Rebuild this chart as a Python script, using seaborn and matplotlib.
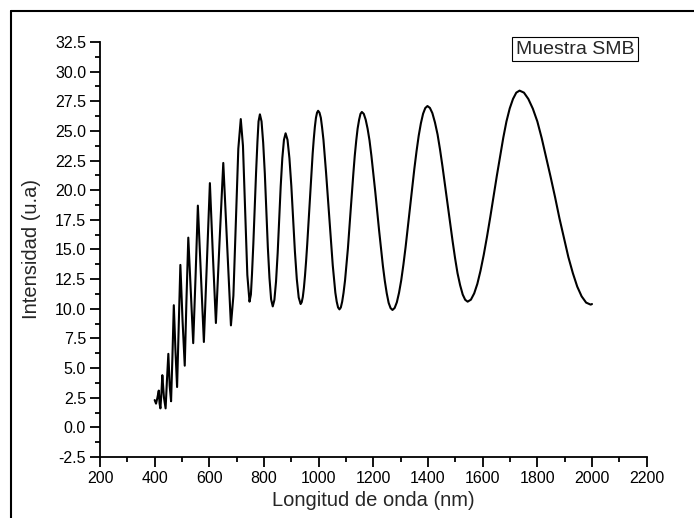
import numpy as np
import pandas as pd
import matplotlib
matplotlib.use("Agg")
import matplotlib.pyplot as plt
from matplotlib.lines import Line2D
from matplotlib.ticker import MultipleLocator, FormatStrFormatter
import seaborn as sns

# ---- data ----
wavelength = [
    400, 405, 410, 415, 418, 421, 425, 428, 434, 440, 445, 450, 455, 460, 465, 470,
    476, 482, 488, 494, 502, 510, 516, 523, 532, 541, 550, 558, 569, 580, 591, 602,
    613, 624, 637, 651, 665, 679, 688, 697, 706, 715, 723, 731, 739, 747,
    752, 756, 761, 766, 771, 776, 780, 785,
    791, 797, 803, 808.5, 814, 820, 826, 832,
    838, 844, 850, 855.5, 861, 867, 873, 879,
    886, 893, 900, 906.5, 913, 920, 927, 934,
    938, 942, 946, 950, 954, 958, 962, 966, 970, 974, 978, 982, 986, 990, 994, 998,
    1003, 1008, 1012.5, 1017.5, 1022, 1027, 1032, 1037, 1042, 1047, 1051.5, 1056.5, 1061, 1066, 1071, 1076,
    1081, 1086, 1091, 1096.5, 1101.5, 1107, 1112, 1117, 1122, 1127, 1132, 1137.5, 1142.5, 1148, 1153, 1158,
    1165, 1172, 1179, 1186, 1193, 1200, 1207, 1214, 1221, 1228, 1235, 1242, 1249, 1256, 1263, 1270,
    1278, 1286, 1294, 1302, 1310, 1318, 1326, 1334, 1342, 1350, 1358, 1366, 1374, 1382, 1390, 1398,
    1407, 1416, 1425.5, 1435, 1444, 1453, 1462, 1471, 1480.5, 1490, 1499, 1508, 1517.5, 1527, 1536, 1545,
    1557, 1569, 1580.5, 1592, 1604, 1616, 1628, 1640, 1652, 1664, 1675.5, 1687, 1699, 1711, 1723, 1735,
    1751, 1767, 1783.5, 1800, 1816, 1832, 1848.5, 1865, 1881, 1898, 1913.5, 1930, 1946, 1962, 1978.5, 1995, 2000,
]
intensity = [
    2.3, 2.0, 2.5, 3.1, 2.0, 1.6, 3.0, 4.4, 2.5, 1.6, 4.0, 6.2, 3.5, 2.2, 6.0, 10.3,
    6.5, 3.4, 8.5, 13.7, 9.0, 5.2, 10.5, 16.0, 11.5, 7.1, 13.0, 18.7, 13.0, 7.2, 14.0, 20.6,
    14.5, 8.8, 15.5, 22.3, 15.5, 8.6, 11.1, 17.3, 23.5, 26.0, 23.75, 18.3, 12.85, 10.6,
    11.2, 12.9, 15.5, 18.5, 21.5, 24.1, 25.8, 26.4,
    25.8, 24.0, 21.4, 18.3, 15.2, 12.6, 10.8, 10.2,
    10.75, 12.3, 14.7, 17.5, 20.3, 22.7, 24.25, 24.8,
    24.25, 22.7, 20.35, 17.6, 14.85, 12.5, 10.95, 10.4,
    10.56, 11.0, 11.77, 12.8, 14.02, 15.4, 16.96, 18.55, 20.14, 21.7, 23.08, 24.3, 25.33, 26.1, 26.54, 26.7,
    26.54, 26.1, 25.29, 24.25, 22.98, 21.5, 19.96, 18.3, 16.69, 15.1, 13.67, 12.4, 11.36, 10.6, 10.11, 9.95,
    10.11, 10.6, 11.35, 12.4, 13.65, 15.1, 16.65, 18.3, 19.9, 21.45, 22.9, 24.2, 25.2, 25.95, 26.44, 26.6,
    26.44, 25.95, 25.19, 24.2, 22.89, 21.4, 19.88, 18.25, 16.62, 15.1, 13.61, 12.35, 11.31, 10.5, 10.06, 9.9,
    10.07, 10.55, 11.35, 12.4, 13.72, 15.2, 16.82, 18.5, 20.18, 21.8, 23.28, 24.6, 25.65, 26.45, 26.93, 27.1,
    26.94, 26.5, 25.71, 24.7, 23.43, 22.0, 20.46, 18.85, 17.24, 15.7, 14.27, 13.0, 11.99, 11.2, 10.76, 10.6,
    10.77, 11.3, 12.10, 13.2, 14.56, 16.1, 17.76, 19.5, 21.24, 22.9, 24.44, 25.8, 26.90, 27.7, 28.23, 28.4,
    28.23, 27.7, 26.88, 25.8, 24.39, 22.8, 21.13, 19.4, 17.62, 15.9, 14.36, 13.0, 11.87, 11.05, 10.52, 10.35, 10.4,
]
x_label = "Longitud de onda (nm)"
y_label = "Intensidad (u.a)"
legend_label = "Muestra SMB"

df = pd.DataFrame({"x": wavelength, "y": intensity})

sns.set_theme(style="ticks")
plt.rcParams["font.family"] = ["Liberation Sans", "DejaVu Sans"]
plt.rcParams["axes.unicode_minus"] = False

fig = plt.figure(figsize=(6.94, 5.18), dpi=100)
ax = fig.add_axes([0.1441, 0.1178, 0.7877, 0.8011])

sns.lineplot(data=df, x="x", y="y", sort=False, color="black", linewidth=1.5,
             ax=ax, estimator=None)

ax.set_xlim(200, 2200)
ax.set_ylim(-2.5, 32.5)
ax.xaxis.set_major_locator(MultipleLocator(200))
ax.xaxis.set_minor_locator(MultipleLocator(100))
ax.yaxis.set_major_locator(MultipleLocator(2.5))
ax.yaxis.set_minor_locator(MultipleLocator(1.25))
ax.yaxis.set_major_formatter(FormatStrFormatter("%.1f"))

for s in ["top", "right"]:
    ax.spines[s].set_visible(False)
for s in ["left", "bottom"]:
    ax.spines[s].set_linewidth(1.3)
    ax.spines[s].set_color("black")

ax.tick_params(which="major", direction="out", length=7, width=1.3,
               labelsize=11.5, colors="black", pad=3)
ax.tick_params(which="minor", direction="out", length=3.5, width=1.3, colors="black")

ax.set_xlabel(x_label, fontsize=14.5, labelpad=4)
ax.set_ylabel(y_label, fontsize=14.5, labelpad=10)

fig.text(575 / 694, 1 - 49 / 518, legend_label, fontsize=14, ha="center", va="center",
         bbox=dict(boxstyle="square,pad=0.2", fc="white", ec="black", lw=0.8))

# outer frame (top and left edges of the figure box)
fig.add_artist(Line2D([11 / 694, 1.0], [1 - 11 / 518, 1 - 11 / 518],
                      transform=fig.transFigure, color="black", lw=1.5))
fig.add_artist(Line2D([11 / 694, 11 / 694], [0.0, 1 - 11 / 518],
                      transform=fig.transFigure, color="black", lw=1.5))

fig.savefig("out.png", dpi=100, facecolor="white")
